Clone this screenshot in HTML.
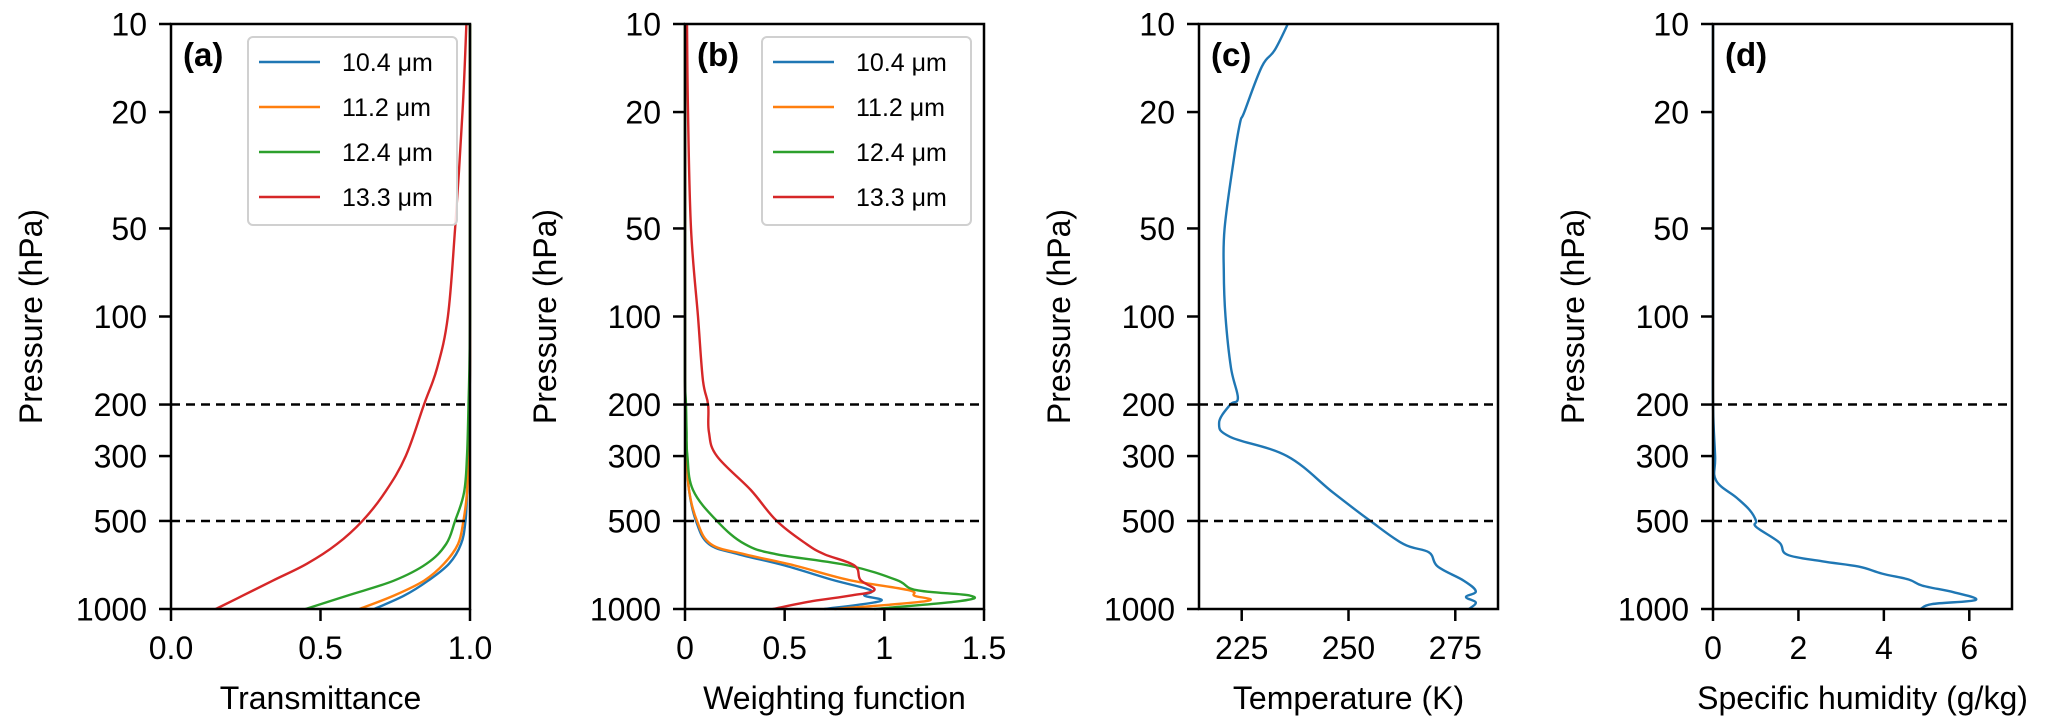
<!DOCTYPE html>
<html><head><meta charset="utf-8">
<style>
html,body{margin:0;padding:0;background:#fff;}
svg{display:block;font-family:"Liberation Sans",Arial,sans-serif;}
</style></head>
<body>
<svg id="fig" width="2067" height="727" viewBox="0 0 2067 727" xmlns="http://www.w3.org/2000/svg"></svg>
<script>
// ---- shared data ----
const pressureTicks = [10, 20, 50, 100, 200, 300, 500, 1000];
const refLevels = [200, 500];
const channels = ["10.4 μm", "11.2 μm", "12.4 μm", "13.3 μm"];
const channelColors = ["#1f77b4", "#ff7f0e", "#2ca02c", "#d62728"];

// (a) transmittance
const pTrans = [10, 20, 50, 100, 150, 200, 300, 400, 500, 600, 700, 800, 900, 1000];
const trans104 = [1, 1, 1, 1, 1, 0.998, 0.995, 0.99, 0.985, 0.97, 0.93, 0.86, 0.78, 0.68];
const trans112 = [1, 1, 1, 1, 1, 0.998, 0.995, 0.99, 0.978, 0.96, 0.913, 0.846, 0.745, 0.63];
const trans124 = [1, 1, 1, 1, 0.998, 0.995, 0.99, 0.98, 0.95, 0.92, 0.855, 0.745, 0.59, 0.45];
const trans133 = [0.988, 0.975, 0.95, 0.926, 0.89, 0.846, 0.785, 0.715, 0.64, 0.555, 0.455, 0.34, 0.24, 0.15];

// (b) weighting function
const pW = [10, 20, 50, 100, 165, 200, 248, 300, 392, 500, 600, 650, 710, 795, 862, 900, 940, 1000];
const w104 = [0, 0, 0, 0, 0, 0.002, 0.005, 0.01, 0.02, 0.055, 0.12, 0.27, 0.5, 0.74, 0.93, 0.9, 0.98, 0.7];
const w112 = [0, 0, 0, 0, 0, 0.002, 0.005, 0.01, 0.02, 0.06, 0.13, 0.3, 0.55, 0.82, 1.12, 1.15, 1.21, 0.75];
const w124 = [0, 0, 0, 0, 0, 0.005, 0.008, 0.012, 0.04, 0.16, 0.3, 0.46, 0.82, 1.06, 1.16, 1.43, 1.38, 0.95];
const w133 = [0.01, 0.015, 0.03, 0.065, 0.09, 0.116, 0.12, 0.16, 0.33, 0.46, 0.61, 0.7, 0.85, 0.88, 0.95, 0.83, 0.64, 0.44];

// (c) temperature
const pT = [10, 12.3, 14, 20, 21.8, 30, 50, 70, 100, 150, 190, 200, 231, 258, 300, 400, 500, 600, 640, 716, 800, 870, 910, 950, 1000];
const tempK = [235.8, 232.7, 229.7, 225.6, 224.6, 223, 221, 220.8, 221.2, 222.5, 224.1, 222.3, 219.7, 222.3, 235.6, 246.4, 255.1, 262.9, 268.8, 270.9, 277, 279.8, 277.5, 279.8, 278.2];

// (d) specific humidity
const pQ = [10, 100, 200, 300, 363, 416, 459, 500, 524, 592, 652, 687, 716, 757, 793, 832, 877, 931, 962, 1000];
const qv = [0, 0, 0, 0.05, 0.07, 0.55, 0.86, 1.01, 1.01, 1.55, 1.74, 2.56, 3.41, 3.96, 4.58, 4.9, 5.64, 6.15, 5.13, 4.86];

const xTicksA = [0, 0.5, 1.0], xLabA = ["0.0", "0.5", "1.0"];
const xTicksB = [0, 0.5, 1, 1.5], xLabB = ["0", "0.5", "1", "1.5"];
const xTicksC = [225, 250, 275], xLabC = ["225", "250", "275"];
const xTicksD = [0, 2, 4, 6], xLabD = ["0", "2", "4", "6"];

// ---- layout ----
const NS = "http://www.w3.org/2000/svg";
const svg = document.getElementById("fig");
const TOP = 24, BOT = 609, W = 299;
function yScale(p){ return TOP + Math.log10(p/10) / 2 * (BOT - TOP); }
function mk(tag, attrs, parent){ const e = document.createElementNS(NS, tag); for (const k in attrs) e.setAttribute(k, attrs[k]); (parent||svg).appendChild(e); return e; }
function smoothPath(pts){
  let d = "M" + pts[0][0].toFixed(1) + "," + pts[0][1].toFixed(1);
  for (let i = 0; i < pts.length - 1; i++){
    const p0 = pts[Math.max(0, i-1)], p1 = pts[i], p2 = pts[i+1], p3 = pts[Math.min(pts.length-1, i+2)];
    const t = 0.18;
    const c1 = [p1[0] + (p2[0]-p0[0])*t, p1[1] + (p2[1]-p0[1])*t];
    const c2 = [p2[0] - (p3[0]-p1[0])*t, p2[1] - (p3[1]-p1[1])*t];
    d += " C" + c1[0].toFixed(1) + "," + c1[1].toFixed(1) + " " + c2[0].toFixed(1) + "," + c2[1].toFixed(1) + " " + p2[0].toFixed(1) + "," + p2[1].toFixed(1);
  }
  return d;
}

function panel(cfg){
  const g = mk("g", {});
  
  
  const L = cfg.left, R = L + W;
  const xs = v => L + (v - cfg.xmin) / (cfg.xmax - cfg.xmin) * W;
  cfg.series.forEach((s, i) => {
    const pts = s.x.map((v, k) => [xs(v), yScale(s.p[k])]);
    const path = mk("path", {d: smoothPath(pts), fill: "none", stroke: s.color, "stroke-width": 2.4, "stroke-linejoin": "round"}, g);
    
    
  });
  refLevels.forEach(p => {
    const ln = mk("line", {x1: L, x2: R, y1: yScale(p), y2: yScale(p), stroke: "#000", "stroke-width": 2.5, "stroke-dasharray": "9,6"}, g);
    
    
  });
  const fr = mk("rect", {x: L, y: TOP, width: W, height: BOT - TOP, fill: "none", stroke: "#000", "stroke-width": 2.5}, g);
  
  
  pressureTicks.forEach(p => {
    const y = yScale(p);
    mk("line", {x1: L - 12, x2: L, y1: y, y2: y, stroke: "#000", "stroke-width": 2.5}, g);
    const t = mk("text", {x: L - 24, y: y + 11.5, "text-anchor": "end", "font-size": 32}, g);
    t.textContent = p;
    
    
  });
  cfg.xticks.forEach((v, i) => {
    const x = xs(v);
    mk("line", {x1: x, x2: x, y1: BOT, y2: BOT + 12, stroke: "#000", "stroke-width": 2.5}, g);
    const t = mk("text", {x: x, y: BOT + 50, "text-anchor": "middle", "font-size": 32}, g);
    t.textContent = cfg.xlabels[i];
    
    
  });
  const xt = mk("text", {x: L + W/2, y: 709, "text-anchor": "middle", "font-size": 32}, g);
  xt.textContent = cfg.xtitle;
  
  
  const yt = mk("text", {x: 0, y: 0, "text-anchor": "middle", "font-size": 32, transform: "translate(" + (L - 129) + "," + ((TOP + BOT)/2) + ") rotate(-90)"}, g);
  yt.textContent = "Pressure (hPa)";
  
  
  const pl = mk("text", {x: L + 12, y: 66, "font-size": 33, "font-weight": "bold"}, g);
  pl.textContent = cfg.tag;
  
  
  if (cfg.legend){
    const lg = mk("g", {}, g);
    
    
    mk("rect", {x: L + 77, y: 37, width: 209, height: 188, rx: 5, fill: "#fff", "fill-opacity": 0.85, stroke: "#d0d0d0", "stroke-width": 2}, lg);
    channels.forEach((c, i) => {
      const y = 62 + i * 45;
      const e = mk("g", {}, lg);
      
      
      mk("line", {x1: L + 88, x2: L + 149, y1: y, y2: y, stroke: channelColors[i], "stroke-width": 2.4}, e);
      const t = mk("text", {x: L + 171, y: y + 9, "font-size": 25}, e);
      t.textContent = c;
    });
  }
}

panel({name: "panel-a-transmittance", tag: "(a)", left: 171, xmin: 0, xmax: 1, xticks: xTicksA, xlabels: xLabA, xtitle: "Transmittance", legend: true,
  series: [trans104, trans112, trans124, trans133].map((x, i) => ({x: x, p: pTrans, color: channelColors[i], label: "transmittance-" + channels[i]}))});
panel({name: "panel-b-weighting", tag: "(b)", left: 685, xmin: 0, xmax: 1.5, xticks: xTicksB, xlabels: xLabB, xtitle: "Weighting function", legend: true,
  series: [w104, w112, w124, w133].map((x, i) => ({x: x, p: pW, color: channelColors[i], label: "weighting-" + channels[i]}))});
panel({name: "panel-c-temperature", tag: "(c)", left: 1199, xmin: 215, xmax: 285, xticks: xTicksC, xlabels: xLabC, xtitle: "Temperature (K)", legend: false,
  series: [{x: tempK, p: pT, color: "#1f77b4", label: "temperature-profile"}]});
panel({name: "panel-d-humidity", tag: "(d)", left: 1713, xmin: 0, xmax: 7, xticks: xTicksD, xlabels: xLabD, xtitle: "Specific humidity (g/kg)", legend: false,
  series: [{x: qv, p: pQ, color: "#1f77b4", label: "humidity-profile"}]});
</script>
</body></html>
